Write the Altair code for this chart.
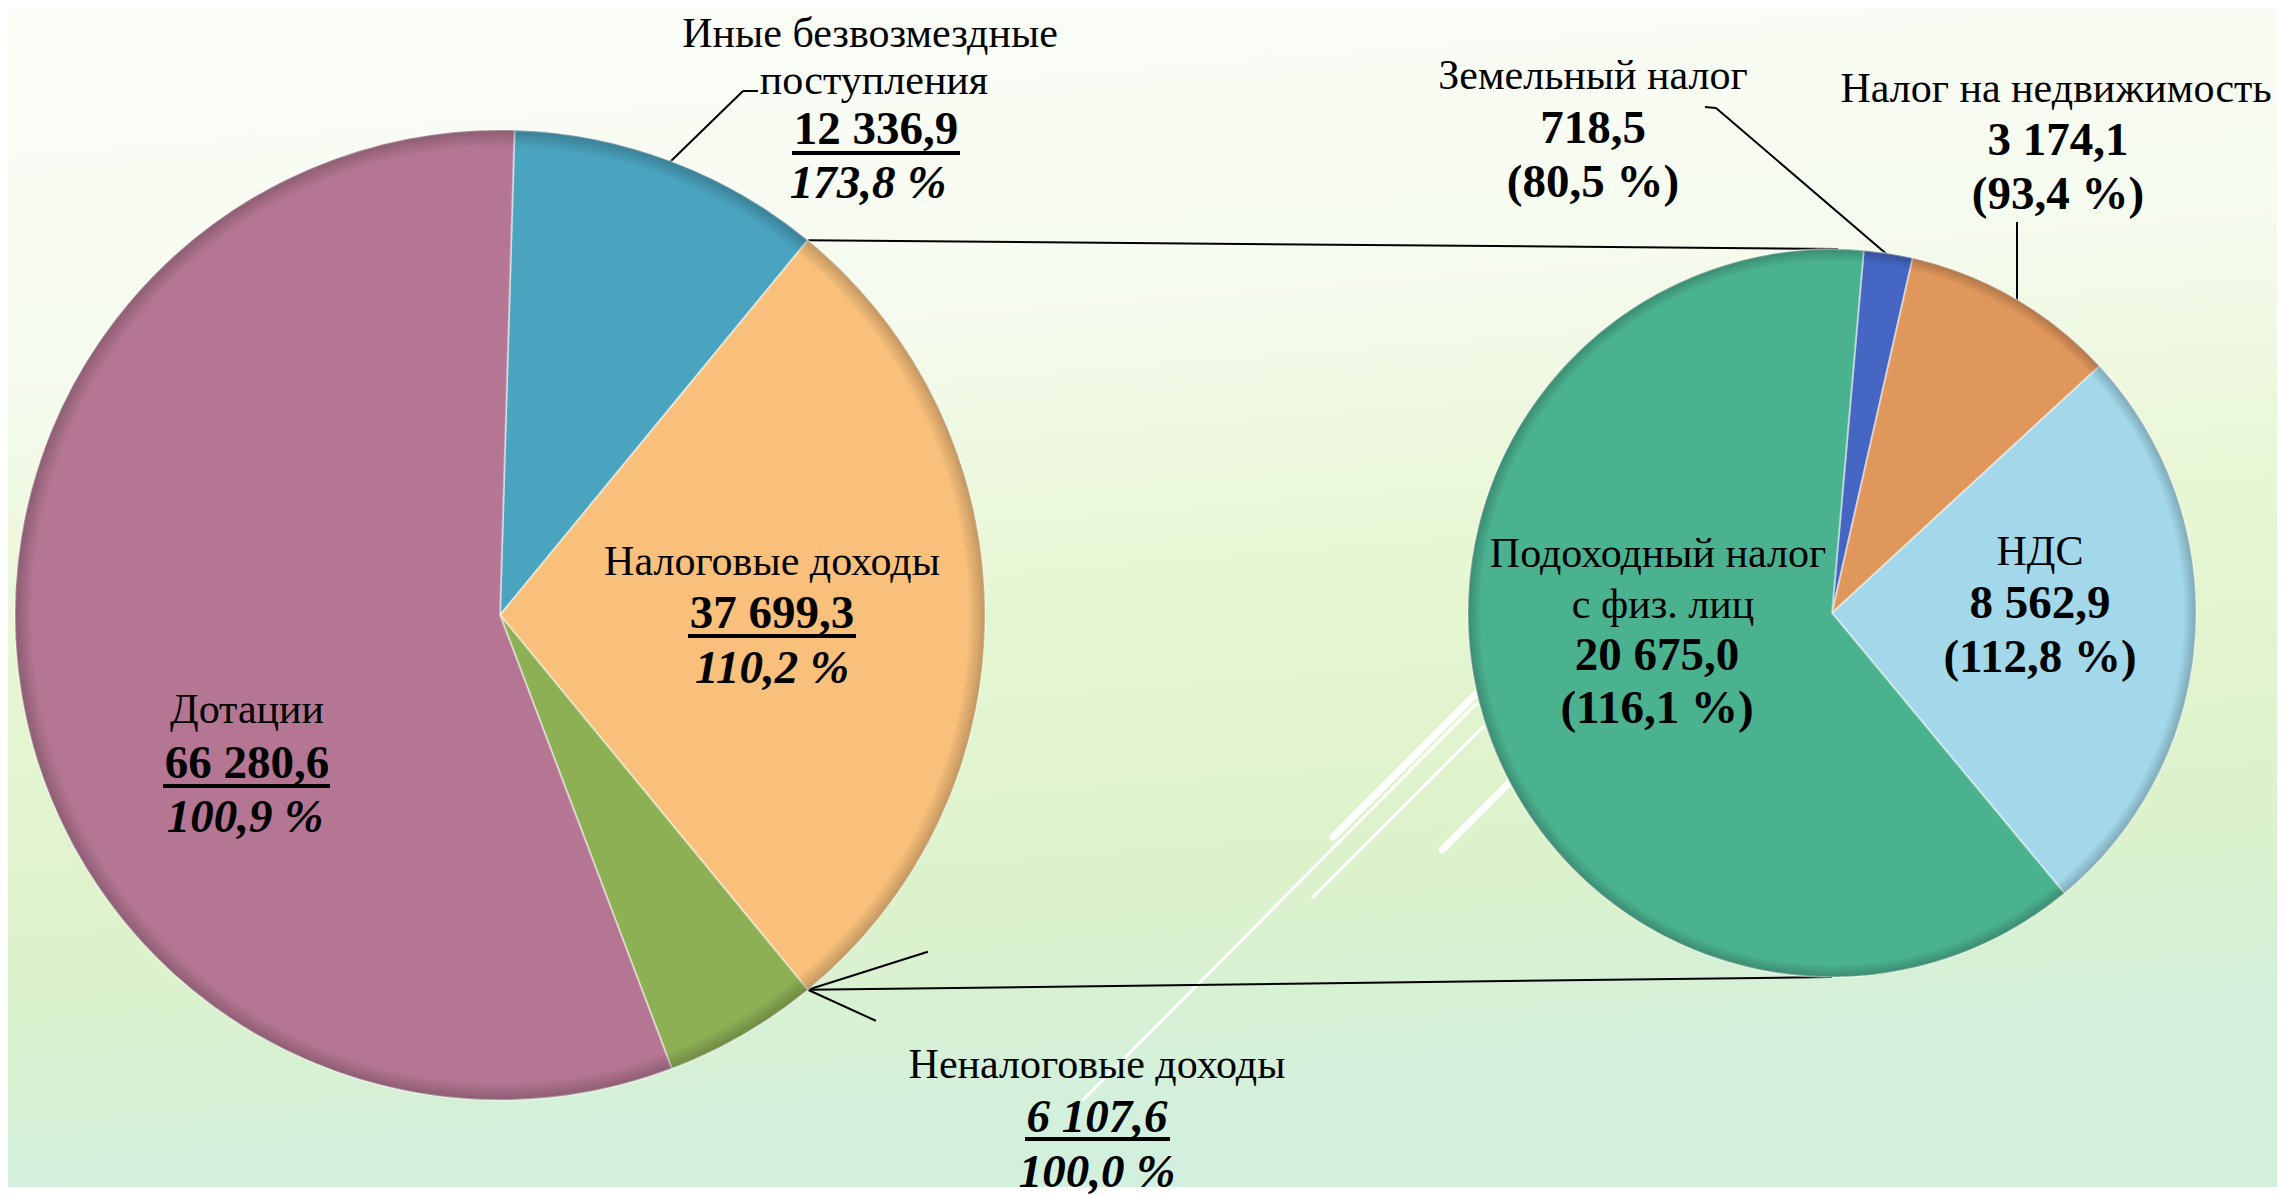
import math
import altair as alt
import pandas as pd

# ---------------- data ----------------
main_names = ["Иные безвозмездные поступления", "Неналоговые доходы", "Дотации"]
main_values = [12336.9, 6107.6, 66280.6]
main_pct = [173.8, 100.0, 100.9]

tax_group_name = "Налоговые доходы"
tax_group_value = 37699.3
tax_group_pct = 110.2

tax_names = ["Земельный налог", "Налог на недвижимость", "НДС", "Подоходный налог с физ. лиц"]
tax_values = [718.5, 3174.1, 8562.9, 20675.0]
tax_pct = [80.5, 93.4, 112.8, 116.1]

all_names = main_names + [tax_group_name] + tax_names
all_colors = ["#4aa3bf", "#8db055", "#b47692", "#f8c07b",
              "#4567c3", "#e0975c", "#a2d8ea", "#4bb290"]

# ---------------- layout ----------------
W, H = 2269, 1179
OFF = 8  # page margin


def P(x, y):
    return x - OFF, y - OFF


L_CX, L_CY = P(500, 615)
L_R = 485
R_CX, R_CY = P(1832, 613)
R_R = 364
R_START = math.radians(5)


def fmt(v):
    return f"{v:,.1f}".replace(",", " ").replace(".", ",")


def pct(p):
    return f"{p:.1f}".replace(".", ",") + " %"


# left pie: Иные, Налоговые (sum of right pie), Неналоговые, Дотации
tax_sum = sum(tax_values)
left_df = pd.DataFrame({
    "name": [main_names[0], tax_group_name, main_names[1], main_names[2]],
    "value": [main_values[0], tax_sum, main_values[1], main_values[2]],
    "idx": [0, 1, 2, 3],
})
left_total = left_df["value"].sum()
# combined slice centred on the right-hand side (pie-of-pie)
L_START = math.pi / 2 - math.pi * tax_sum / left_total - 2 * math.pi * main_values[0] / left_total

right_df = pd.DataFrame({
    "name": tax_names,
    "value": tax_values,
    "idx": list(range(len(tax_names))),
})

color = alt.Color("name:N", scale=alt.Scale(domain=all_names, range=all_colors), legend=None)

left_pie = alt.Chart(left_df).mark_arc(
    outerRadius=L_R, stroke="#ffffff", strokeOpacity=0.45, strokeWidth=2
).encode(
    theta=alt.Theta("value:Q", stack=True,
                    scale=alt.Scale(range=[L_START, L_START + 2 * math.pi])),
    order=alt.Order("idx:Q"),
    color=color,
    x=alt.value(L_CX), y=alt.value(L_CY),
)

right_pie = alt.Chart(right_df).mark_arc(
    outerRadius=R_R, stroke="#ffffff", strokeOpacity=0.45, strokeWidth=2
).encode(
    theta=alt.Theta("value:Q", stack=True,
                    scale=alt.Scale(range=[R_START, R_START + 2 * math.pi])),
    order=alt.Order("idx:Q"),
    color=color,
    x=alt.value(R_CX), y=alt.value(R_CY),
)

# subtle rim shading (bevel look)
rim_fill = alt.RadialGradient(
    gradient="radial", x1=0.5, y1=0.5, r1=0, x2=0.5, y2=0.5, r2=0.5,
    stops=[
        alt.GradientStop(color="rgba(0,0,0,0)", offset=0),
        alt.GradientStop(color="rgba(0,0,0,0)", offset=0.965),
        alt.GradientStop(color="rgba(0,0,0,0.22)", offset=1),
    ],
)


def rim(cx, cy, r):
    return alt.Chart(alt.Data(values=[{}])).mark_arc(
        outerRadius=r, theta=0, theta2=2 * math.pi, fill=rim_fill
    ).encode(x=alt.value(cx), y=alt.value(cy))


left_rim = rim(L_CX, L_CY, L_R)
right_rim = rim(R_CX, R_CY, R_R)

# ---------------- background ----------------
bg = alt.Chart(alt.Data(values=[{}])).mark_rect(
    color=alt.LinearGradient(
        gradient="linear", x1=0, x2=0.15, y1=0, y2=1,
        stops=[
            alt.GradientStop(color="#fbfdf8", offset=0),
            alt.GradientStop(color="#f6fbef", offset=0.3),
            alt.GradientStop(color="#e7f6d3", offset=0.55),
            alt.GradientStop(color="#dcf2cb", offset=0.8),
            alt.GradientStop(color="#d3f0de", offset=1),
        ],
    )
).encode(x=alt.value(0), x2=alt.value(W), y=alt.value(0), y2=alt.value(H))

deco_rows = [
    (1083, 1100, 1477, 703, 3),
    (1333, 837, 1477, 693, 7),
    (1313, 897, 1483, 727, 3),
    (1442, 850, 1510, 782, 7),
]
deco_df = pd.DataFrame([
    dict(x=P(a, b)[0], y=P(a, b)[1], x2=P(c, d)[0], y2=P(c, d)[1], w=w)
    for a, b, c, d, w in deco_rows
])


def rule_layer(df, color_, width, cap="butt"):
    return alt.Chart(df).mark_rule(color=color_, strokeWidth=width, strokeCap=cap).encode(
        x=alt.X("x:Q", scale=None, axis=None),
        y=alt.Y("y:Q", scale=None, axis=None),
        x2="x2:Q", y2="y2:Q",
    )


deco_thin = rule_layer(deco_df[deco_df.w < 5], "#ffffff", 3, "round")
deco_thick = rule_layer(deco_df[deco_df.w >= 5], "#ffffff", 7, "round")

# ---------------- connectors & leaders ----------------
a0 = L_START + 2 * math.pi * main_values[0] / left_total
a1 = a0 + 2 * math.pi * tax_sum / left_total
top_pt = (L_CX + L_R * math.sin(a0), L_CY - L_R * math.cos(a0))
bot_pt = (L_CX + L_R * math.sin(a1), L_CY - L_R * math.cos(a1))
segs = [
    (top_pt[0], top_pt[1], R_CX + 6, R_CY - R_R),
    (bot_pt[0], bot_pt[1], R_CX, R_CY + R_R),
]
leader_page = [
    (743, 91, 758, 91), (743, 91, 670, 162),          # Иные
    (1705, 107, 1716, 108), (1716, 108, 1890, 257),   # Земельный
    (2017, 222, 2017, 302),                           # Недвижимость
]
for a, b, c, d in leader_page:
    segs.append((*P(a, b), *P(c, d)))
# Неналоговые leaders from the slice vertex
segs.append((bot_pt[0], bot_pt[1], bot_pt[0] + 120, bot_pt[1] - 38))
segs.append((bot_pt[0], bot_pt[1], bot_pt[0] + 68, bot_pt[1] + 31))
lines_df = pd.DataFrame(segs, columns=["x", "y", "x2", "y2"])
lines = rule_layer(lines_df, "#000000", 2)

# ---------------- labels ----------------
labels = []  # (text, style, x, y) in page coordinates (baseline)


def add(text, style, x, y):
    px, py = P(x, y)
    labels.append(dict(text=text, style=style, x=px, y=py))


add("Иные безвозмездные", "n", 870, 47)
add("поступления", "n", 874, 94)
add(fmt(main_values[0]), "b", 876, 144)
add(pct(main_pct[0]), "bi", 868, 198)

add(tax_group_name, "n", 772, 575)
add(fmt(tax_group_value), "b", 772, 628)
add(pct(tax_group_pct), "bi", 772, 683)

add(main_names[1], "n", 1097, 1078)
add(fmt(main_values[1]), "bi", 1097, 1132)
add(pct(main_pct[1]), "bi", 1097, 1187)

add(main_names[2], "n", 247, 723)
add(fmt(main_values[2]), "b", 247, 778)
add(pct(main_pct[2]), "bi", 245, 832)

add("Подоходный налог", "n", 1658, 567)
add("с физ. лиц", "n", 1663, 618)
add(fmt(tax_values[3]), "b", 1657, 670)
add("(" + pct(tax_pct[3]) + ")", "b", 1657, 723)

add(tax_names[2], "n", 2040, 565)
add(fmt(tax_values[2]), "b", 2040, 618)
add("(" + pct(tax_pct[2]) + ")", "b", 2040, 672)

add(tax_names[0], "n", 1593, 89)
add(fmt(tax_values[0]), "b", 1593, 143)
add("(" + pct(tax_pct[0]) + ")", "b", 1593, 197)

add(tax_names[1], "n", 2056, 102)
add(fmt(tax_values[1]), "b", 2058, 155)
add("(" + pct(tax_pct[1]) + ")", "b", 2058, 209)

labels_df = pd.DataFrame(labels)

FONT = "Liberation Serif"


def text_layer(style, size, weight, italic):
    return alt.Chart(labels_df[labels_df["style"] == style]).mark_text(
        font=FONT, fontSize=size, fontWeight=weight,
        fontStyle="italic" if italic else "normal",
        align="center", baseline="alphabetic", color="#000000",
    ).encode(
        x=alt.X("x:Q", scale=None, axis=None),
        y=alt.Y("y:Q", scale=None, axis=None),
        text="text:N",
    )


t_norm = text_layer("n", 42, "normal", False)
t_bold = text_layer("b", 47, "bold", False)
t_bi = text_layer("bi", 47, "bold", True)

# underlines
ul_page = [
    (792, 960, 153),
    (688, 856, 636),
    (1025, 1170, 1139),
    (163, 330, 786),
]
ul_df = pd.DataFrame([
    dict(x=a - OFF, x2=b - OFF, y=yy - OFF, y2=yy - OFF) for a, b, yy in ul_page
])
underlines = rule_layer(ul_df, "#000000", 4)

chart = alt.layer(
    bg, deco_thin, deco_thick, lines, left_pie, right_pie, left_rim, right_rim,
    t_norm, t_bold, t_bi, underlines,
).resolve_scale(theta="independent").properties(
    width=W, height=H, padding=0,
).configure_view(stroke=None)

chart.save("out.html", embed_options={"renderer": "svg", "actions": False})
